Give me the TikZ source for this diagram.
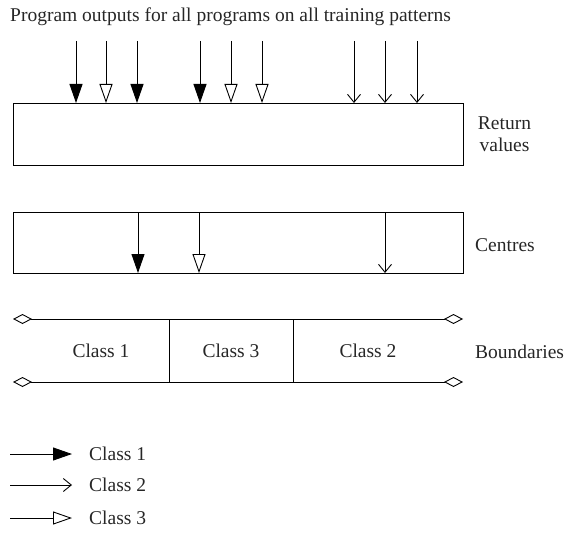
\documentclass[tikz,border=0pt]{standalone}
\usepackage{fontspec}
\setmainfont{Liberation Serif}
\usetikzlibrary{arrows.meta, positioning, calc}
\tikzset{
    font=\fontsize{19.5}{22}\selectfont,
    % Arrows
    fillArr/.style={-{Triangle[length=19pt, width=13pt]}, line width=0.9pt},
    openArr/.style={-{Triangle[open, length=19pt, width=13pt]}, line width=0.9pt},
    plainArr/.style={-{Straight Barb[length=8pt, width=13pt]}, line width=0.9pt},
    bndLine/.style={{Diamond[open, length=19pt, width=10pt]}-{Diamond[open, length=19pt, width=10pt]}, line width=0.9pt},
    % Shapes
    valBox/.style={rectangle, draw, line width=0.9pt, outer sep=0pt,
                   minimum width=450pt, minimum height=62pt},
    cell/.style={rectangle, outer sep=0pt, inner sep=0pt, minimum height=63pt, text=black!85},
    % Labels
    lbl/.style={inner sep=0pt, text=black!85, align=center}
}

\begin{document}
\begin{tikzpicture}[x=1pt, y=-1pt]
\useasboundingbox (0,0) rectangle (572,532);

\node[lbl, anchor=base west] (title) at (10,22) {Program outputs for all programs on all training patterns};

% return values
\node[valBox] (ret) at (238,134) {};
\node[lbl, anchor=north] (retLbl) at (504.5,117) {Return\\values};
\foreach \x/\tip in {76/fillArr, 106/openArr, 137/fillArr, 200/fillArr, 231/openArr,
                     262/openArr, 354/plainArr, 385/plainArr, 417/plainArr} {
    \coordinate (src\x) at (\x,41);
    \draw[\tip] (src\x) -- (src\x |- ret.north);
}

% centres
\node[valBox, minimum height=61pt] (cen) at (238,242.5) {};
\node[lbl, anchor=west] (cenLbl) at (475,245) {Centres};
\foreach \x/\tip in {138/fillArr, 199/openArr, 385/plainArr} {
    \coordinate (ct\x) at (\x,0);
    \draw[\tip] (cen.north -| ct\x) -- (cen.south -| ct\x);
}

% boundaries
\node[cell, minimum width=136pt] (c1) at (101,350.5) {Class 1};
\node[cell, minimum width=124pt, right=0pt of c1] (c3) {Class 3};
\node[cell, minimum width=150pt, right=0pt of c3] (c2) {Class 2};
\node[lbl, anchor=west] (bndLbl) at (475,352) {Boundaries};
\draw[bndLine] ([xshift=-20pt]c1.north west) -- ([xshift=20pt]c2.north east);
\draw[bndLine] ([xshift=-20pt]c1.south west) -- ([xshift=20pt]c2.south east);
\draw[line width=0.9pt] (c1.north east) -- (c1.south east);
\draw[line width=0.9pt] (c3.north east) -- (c3.south east);

% legend
\foreach \i/\y/\tip/\name in {1/454/fillArr/Class 1, 2/485/plainArr/Class 2, 3/518/openArr/Class 3} {
    \coordinate (leg\i) at (10,\y);
    \node[lbl, anchor=west] (legTxt\i) at (89,\y) {\name};
    \draw[\tip, shorten >=17pt] (leg\i) -- (leg\i -| legTxt\i.west);
}

\end{tikzpicture}
\end{document}
